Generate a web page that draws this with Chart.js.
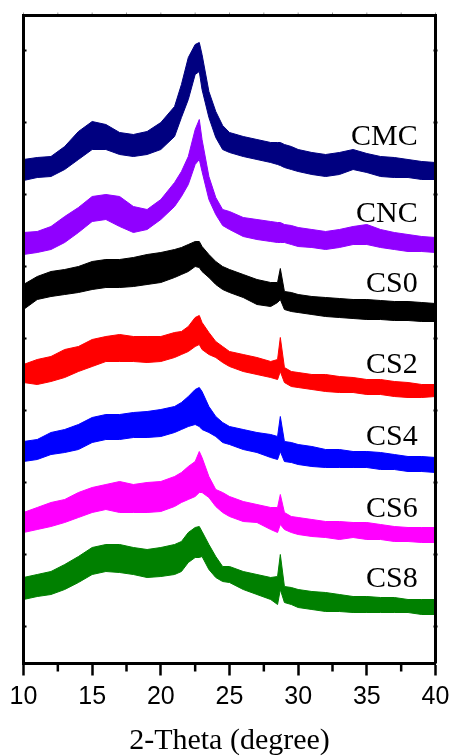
<!DOCTYPE html>
<html>
<head>
<meta charset="utf-8">
<title>XRD patterns</title>
<script src="https://cdn.jsdelivr.net/npm/chart.js@4.4.1/dist/chart.umd.min.js"></script>
<style>
    html, body { margin: 0; padding: 0; background: #ffffff; }
    #chart { display: block; }
</style>
</head>
<body>
<canvas id="chart" width="451" height="756"></canvas>
<script>
(function () {
    'use strict';

    // 2-theta sample positions (degree)
    var twoTheta = [10, 11, 12, 13, 14, 15, 16, 17, 18, 19, 20, 21, 21.5, 22, 22.5, 22.8, 23, 23.5, 24, 24.5,
        25, 26, 27, 28, 28.5, 28.7, 29, 29.5, 30, 31, 32, 33, 34, 35, 36, 37, 38, 39, 40];

    // stacked intensities (a.u.), top and bottom of the noise band of each pattern
    var cmcUpper = [502, 504, 505, 515, 530, 540, 537, 529, 527, 530, 539, 555, 577, 604, 617, 619, 607, 570, 550, 536,
        529, 525, 522, 519, 519, 519, 517, 515, 512, 509, 507, 509, 512, 508, 505, 504, 502, 500, 499];
    var cmcLower = [481, 484, 485, 492, 502, 512, 512, 507, 505, 507, 512, 525, 544, 562, 587, 590, 572, 544, 524, 512,
        509, 505, 502, 499, 497, 496, 494, 492, 490, 487, 485, 487, 492, 489, 485, 484, 484, 482, 482];

    var cncUpper = [429, 430, 435, 445, 454, 465, 467, 465, 455, 452, 462, 479, 490, 505, 532, 542, 522, 485, 464, 452,
        450, 444, 442, 440, 439, 439, 437, 436, 434, 432, 430, 432, 435, 437, 432, 429, 427, 425, 424];
    var cncLower = [407, 409, 412, 419, 429, 440, 442, 435, 429, 432, 442, 455, 465, 477, 497, 502, 490, 462, 447, 436,
        432, 425, 422, 420, 419, 419, 419, 417, 415, 414, 412, 414, 417, 417, 414, 412, 410, 410, 409];

    var cs0Upper = [377, 385, 390, 392, 395, 400, 402, 402, 404, 407, 409, 412, 414, 417, 420, 420, 415, 407, 400, 395,
        392, 387, 382, 379, 379, 393, 370, 369, 367, 365, 364, 363, 362, 362, 361, 360, 360, 359, 358];
    var cs0Lower = [352, 362, 365, 367, 369, 372, 374, 374, 375, 377, 379, 384, 387, 390, 395, 394, 390, 384, 377, 372,
        369, 364, 357, 355, 359, 362, 352, 350, 349, 347, 345, 344, 343, 342, 342, 341, 341, 340, 340];

    var cs2Upper = [297, 302, 305, 312, 315, 322, 325, 327, 325, 325, 325, 329, 330, 335, 344, 346, 339, 329, 320, 315,
        310, 307, 304, 300, 302, 324, 294, 290, 289, 287, 287, 285, 284, 282, 282, 280, 279, 277, 277];
    var cs2Lower = [279, 277, 280, 284, 290, 295, 300, 300, 300, 299, 300, 304, 307, 310, 315, 317, 312, 307, 304, 299,
        295, 290, 287, 284, 282, 290, 279, 275, 274, 272, 270, 269, 269, 267, 267, 265, 264, 264, 265];

    var cs4Upper = [220, 222, 229, 232, 237, 244, 247, 247, 249, 250, 252, 255, 259, 265, 272, 274, 270, 255, 245, 239,
        235, 232, 229, 227, 225, 245, 220, 219, 217, 215, 212, 212, 210, 210, 209, 207, 205, 205, 204];
    var cs4Lower = [200, 202, 207, 209, 212, 219, 222, 222, 224, 224, 225, 229, 232, 235, 237, 235, 232, 229, 225, 219,
        217, 212, 209, 204, 202, 210, 200, 199, 197, 195, 194, 194, 194, 194, 192, 192, 190, 190, 189];

    var cs6Upper = [149, 154, 159, 162, 169, 174, 177, 180, 177, 179, 180, 185, 189, 195, 200, 210, 204, 185, 172, 169,
        165, 160, 157, 154, 154, 167, 149, 145, 144, 142, 140, 140, 139, 139, 137, 135, 134, 134, 134];
    var cs6Lower = [129, 132, 135, 139, 144, 149, 152, 149, 149, 149, 150, 155, 159, 162, 165, 169, 169, 164, 155, 149,
        145, 140, 139, 132, 129, 137, 132, 129, 127, 125, 124, 122, 124, 122, 122, 120, 120, 119, 119];

    var cs8Upper = [84, 87, 90, 97, 105, 114, 117, 117, 114, 112, 114, 117, 120, 129, 134, 135, 130, 117, 105, 95,
        95, 90, 87, 84, 85, 107, 75, 74, 72, 70, 69, 67, 65, 65, 64, 64, 62, 62, 62];
    var cs8Lower = [62, 65, 67, 72, 79, 87, 90, 89, 87, 84, 85, 87, 90, 99, 104, 104, 105, 92, 84, 80,
        79, 72, 67, 62, 57, 72, 59, 57, 54, 52, 50, 50, 49, 49, 49, 49, 49, 47, 47];

    var sampleNames = ['CMC', 'CNC', 'CS0', 'CS2', 'CS4', 'CS6', 'CS8'];
    var upperSets = [cmcUpper, cncUpper, cs0Upper, cs2Upper, cs4Upper, cs6Upper, cs8Upper];
    var lowerSets = [cmcLower, cncLower, cs0Lower, cs2Lower, cs4Lower, cs6Lower, cs8Lower];

    // where the sample names sit (2-theta of right edge, intensity of baseline)
    var nameTheta = 38.7;
    var nameLevels = [517, 440, 370, 289, 217, 145, 75];

    var xMajorTicks = [10, 15, 20, 25, 30, 35, 40];
    var xMinorTicks = [12.5, 17.5, 22.5, 27.5, 32.5, 37.5];
    var yTicks = [35, 107, 179, 251, 323, 395, 467, 539, 611];

    var colors = ['#000080', '#9000ff', '#000000', '#ff0000', '#0000ff', '#ff00ff', '#008000'];

    function points(values) {
        return twoTheta.map(function (t, i) {
            return { x: t, y: values[i] };
        });
    }

    var datasets = [];

    sampleNames.forEach(function (name, i) {
        datasets.push({
            label: name,
            data: points(upperSets[i]),
            borderColor: colors[i],
            backgroundColor: colors[i],
            borderWidth: 1,
            pointRadius: 0,
            tension: 0,
            fill: false
        });
        datasets.push({
            label: name + ' low',
            data: points(lowerSets[i]),
            borderColor: colors[i],
            backgroundColor: colors[i],
            borderWidth: 1,
            pointRadius: 0,
            tension: 0,
            fill: '-1'
        });
    });

    var framePlugin = {
        id: 'xrdFrame',
        afterDatasetsDraw: function (chart) {
            var ctx = chart.ctx;
            var area = chart.chartArea;
            var xs = chart.scales.x;
            var ys = chart.scales.y;

            ctx.save();
            ctx.strokeStyle = '#000';
            ctx.lineCap = 'butt';

            // top, left and right sides of the box
            ctx.lineWidth = 3;
            ctx.beginPath();
            ctx.moveTo(area.left, area.bottom);
            ctx.lineTo(area.left, area.top);
            ctx.lineTo(area.right, area.top);
            ctx.lineTo(area.right, area.bottom);
            ctx.stroke();

            // minor ticks under the bottom axis
            ctx.lineWidth = 2.5;
            xMinorTicks.forEach(function (t) {
                var px = xs.getPixelForValue(t);
                ctx.beginPath();
                ctx.moveTo(px, area.bottom);
                ctx.lineTo(px, area.bottom + 8);
                ctx.stroke();
            });

            // tiny ticks on the top axis
            ctx.lineWidth = 1;
            ctx.strokeStyle = '#999';
            xMajorTicks.concat(xMinorTicks).forEach(function (t) {
                var px = xs.getPixelForValue(t);
                ctx.beginPath();
                ctx.moveTo(px, area.top - 1.5);
                ctx.lineTo(px, area.top - 3);
                ctx.stroke();
            });

            // small ticks on both side axes
            ctx.strokeStyle = '#000';
            ctx.lineWidth = 2;
            yTicks.forEach(function (v) {
                var py = ys.getPixelForValue(v);
                ctx.beginPath();
                ctx.moveTo(area.left, py);
                ctx.lineTo(area.left + 3, py);
                ctx.moveTo(area.right - 2, py);
                ctx.lineTo(area.right + 2, py);
                ctx.stroke();
            });

            // sample names
            ctx.fillStyle = '#000';
            ctx.font = "30px 'Liberation Serif', 'Times New Roman', serif";
            ctx.textAlign = 'right';
            ctx.textBaseline = 'alphabetic';
            sampleNames.forEach(function (name, i) {
                ctx.fillText(name, xs.getPixelForValue(nameTheta), ys.getPixelForValue(nameLevels[i]));
            });

            ctx.restore();
        }
    };

    new Chart(document.getElementById('chart'), {
        type: 'line',
        data: { datasets: datasets },
        options: {
            responsive: false,
            animation: false,
            events: [],
            layout: {
                padding: { left: 23.5, right: 15.5, top: 15.5, bottom: 0 }
            },
            plugins: {
                legend: { display: false },
                tooltip: { enabled: false }
            },
            scales: {
                x: {
                    type: 'linear',
                    min: 10,
                    max: 40,
                    ticks: {
                        stepSize: 5,
                        maxRotation: 0,
                        padding: 7,
                        color: '#000',
                        font: { family: "'Liberation Sans', Arial, sans-serif", size: 25 }
                    },
                    grid: {
                        drawOnChartArea: false,
                        drawTicks: true,
                        tickLength: 12,
                        tickWidth: 2.5,
                        tickColor: '#000',
                        color: '#000'
                    },
                    border: { display: true, color: '#000', width: 3 },
                    title: {
                        display: true,
                        text: '2-Theta (degree)',
                        color: '#000',
                        font: { family: "'Liberation Serif', 'Times New Roman', serif", size: 30, lineHeight: 1 },
                        padding: { top: 0, bottom: 0 }
                    },
                    afterFit: function (scale) {
                        scale.height = 92.5;
                        scale.paddingLeft = 0;
                        scale.paddingRight = 0;
                    }
                },
                y: {
                    display: false,
                    min: -2,
                    max: 646
                }
            }
        },
        plugins: [framePlugin]
    });
})();
</script>
</body>
</html>
